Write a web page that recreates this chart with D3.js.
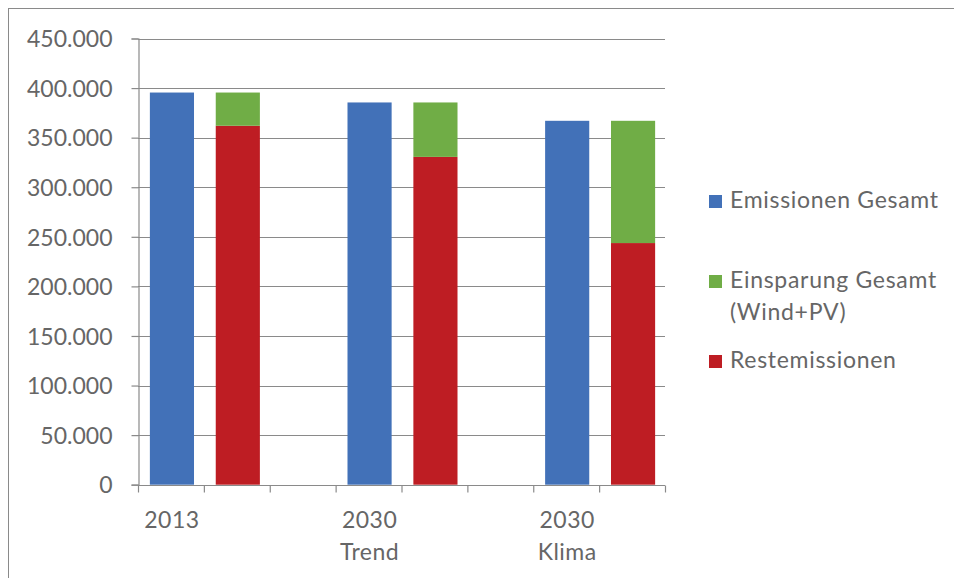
<!DOCTYPE html>
<html>
<head>
<meta charset="utf-8">
<script src="https://cdn.jsdelivr.net/npm/d3@7"></script>
<style>
  html, body { margin: 0; padding: 0; background: #fff; }
  svg { display: block; }
  text { font-family: Lato, "Open Sans", sans-serif; fill: #666; }
</style>
</head>
<body>
<svg id="chart" width="954" height="578"></svg>
<script>
// ---- data ----
const categories = ["2013", "", "", "2030 Trend", "", "", "2030 Klima", ""];
const emissionenGesamt = [395500, null, null, 385500, null, null, 367000, null];
const restemissionen   = [null, 362000, null, null, 330600, null, null, 243700];
const einsparungGesamt = [null, 33500, null, null, 54900, null, null, 123300];
const yTicks = [0, 50000, 100000, 150000, 200000, 250000, 300000, 350000, 400000, 450000];
const seriesNames = ["Emissionen Gesamt", "Einsparung Gesamt (Wind+PV)", "Restemissionen"];
const seriesColors = ["#4271b8", "#70ad46", "#be1d23"];

// ---- layout ----
const svg = d3.select("#chart");
const plotL = 138, plotR = 665, plotT = 38.5, plotB = 484.7;

svg.append("rect").attr("x", 8.5).attr("y", 8.5).attr("width", 1000).attr("height", 1000)
  .attr("fill", "none").attr("stroke", "#8a8a8a").attr("stroke-width", 1);

const x = d3.scaleBand().domain(d3.range(categories.length)).range([plotL + 1, plotR + 1])
  .paddingInner(0.33).paddingOuter(0.165);
const y = d3.scaleLinear().domain([0, 450000]).range([plotB, plotT]);

const de = d3.formatLocale({decimal: ",", thousands: ".", grouping: [3], currency: ["", "€"]});
const fmt = de.format(",");

// gridlines
svg.append("g").selectAll("line").data(yTicks.filter(d => d > 0)).join("line")
  .attr("x1", plotL).attr("x2", plotR)
  .attr("y1", d => Math.round(y(d)) + 0.5).attr("y2", d => Math.round(y(d)) + 0.5)
  .attr("stroke", "#8a8a8a").attr("stroke-width", 1.2);

// bars
const gBars = svg.append("g");
gBars.selectAll("rect.em").data(emissionenGesamt.map((v, i) => ({v, i})).filter(d => d.v != null))
  .join("rect").attr("class", "em")
  .attr("x", d => x(d.i)).attr("width", x.bandwidth())
  .attr("y", d => y(d.v)).attr("height", d => y(0) - y(d.v))
  .attr("fill", seriesColors[0]);
gBars.selectAll("rect.rest").data(restemissionen.map((v, i) => ({v, i})).filter(d => d.v != null))
  .join("rect").attr("class", "rest")
  .attr("x", d => x(d.i)).attr("width", x.bandwidth())
  .attr("y", d => y(d.v)).attr("height", d => y(0) - y(d.v))
  .attr("fill", seriesColors[2]);
gBars.selectAll("rect.ein").data(einsparungGesamt.map((v, i) => ({v, i, base: restemissionen[i]})).filter(d => d.v != null))
  .join("rect").attr("class", "ein")
  .attr("x", d => x(d.i)).attr("width", x.bandwidth())
  .attr("y", d => y(d.base + d.v)).attr("height", d => y(d.base) - y(d.base + d.v))
  .attr("fill", seriesColors[1]);

// y axis
const yAxis = svg.append("g").attr("transform", `translate(${plotL + 0.5},0)`)
  .call(d3.axisLeft(y).tickValues(yTicks).tickFormat(fmt).tickSize(7).tickPadding(19));
yAxis.select(".domain").attr("stroke", "#8a8a8a").attr("stroke-width", 1.2);
yAxis.selectAll(".tick line").attr("stroke", "#8a8a8a").attr("stroke-width", 1.2);
yAxis.selectAll(".tick text").style("font-size", "23px").attr("fill", "#666")
  .style("font-family", "Lato, 'Open Sans', sans-serif").attr("dy", "0.36em");

// x axis line & ticks at category boundaries
const xBase = Math.round(y(0)) + 0.5;
svg.append("line").attr("x1", plotL).attr("x2", plotR).attr("y1", xBase).attr("y2", xBase)
  .attr("stroke", "#8a8a8a").attr("stroke-width", 1.2);
const bounds = d3.range(categories.length + 1).map(i => plotL + i * x.step());
svg.append("g").selectAll("line").data(bounds).join("line")
  .attr("x1", d => d + 0.5).attr("x2", d => d + 0.5).attr("y1", xBase).attr("y2", xBase + 7)
  .attr("stroke", "#8a8a8a").attr("stroke-width", 1.2);

// x labels
const gx = svg.append("g");
categories.forEach((c, i) => {
  if (!c) return;
  const cx = x(i) + x.bandwidth() / 2;
  const t = gx.append("text").attr("x", cx).attr("y", 528)
    .attr("text-anchor", "middle").style("font-size", "23px").style("letter-spacing", "0.5px");
  c.split(" ").forEach((line, k) => {
    t.append("tspan").attr("x", cx).attr("dy", k === 0 ? 0 : 32).text(line);
  });
});

// legend
const legendItems = [
  {name: ["Emissionen Gesamt"], color: seriesColors[0], y: 208},
  {name: ["Einsparung Gesamt", "(Wind+PV)"], color: seriesColors[1], y: 288},
  {name: ["Restemissionen"], color: seriesColors[2], y: 368}
];
const lg = svg.append("g");
legendItems.forEach(it => {
  lg.append("rect").attr("x", 709).attr("y", it.y - 13).attr("width", 13).attr("height", 13).attr("fill", it.color);
  const t = lg.append("text").attr("x", 730).attr("y", it.y).style("font-size", "23px").style("letter-spacing", "0.7px");
  it.name.forEach((line, k) => t.append("tspan").attr("x", 730).attr("dy", k === 0 ? 0 : 32).text(line));
});
</script>
</body>
</html>
